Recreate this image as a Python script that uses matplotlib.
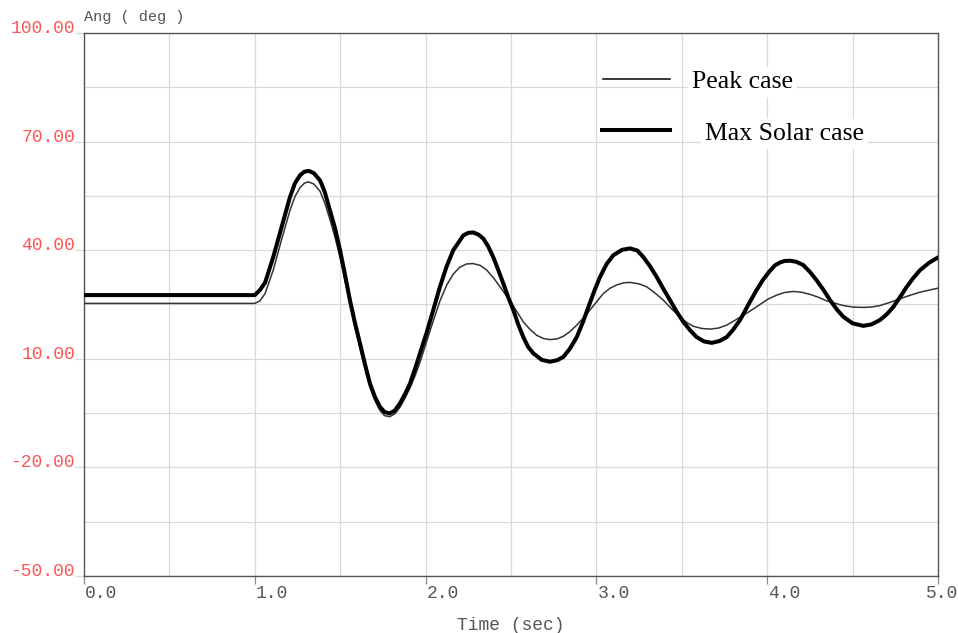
import matplotlib
matplotlib.use("Agg")
import matplotlib.pyplot as plt
from matplotlib.lines import Line2D
from matplotlib.transforms import ScaledTranslation, blended_transform_factory

# Rotor angle response, Peak case
t_peak = [0.0, 1.0, 1.03, 1.06, 1.108, 1.157, 1.206, 1.235, 1.265, 1.29, 1.313,
          1.345, 1.382, 1.41, 1.44, 1.47, 1.499, 1.528, 1.557, 1.586, 1.616,
          1.645, 1.674, 1.703, 1.733, 1.76, 1.79, 1.82, 1.85, 1.88, 1.909,
          1.94, 1.967, 2.006, 2.045, 2.084, 2.123, 2.162, 2.20, 2.24, 2.279,
          2.32, 2.358, 2.40, 2.436, 2.47, 2.504, 2.54, 2.572, 2.61, 2.65,
          2.69, 2.728, 2.77, 2.806, 2.845, 2.885, 2.943, 2.98, 3.04, 3.08,
          3.119, 3.16, 3.197, 3.25, 3.294, 3.34, 3.392, 3.44, 3.489, 3.53,
          3.567, 3.615, 3.665, 3.715, 3.763, 3.81, 3.86, 3.91, 3.958, 4.005,
          4.056, 4.10, 4.153, 4.20, 4.251, 4.30, 4.348, 4.40, 4.446, 4.50,
          4.563, 4.61, 4.66, 4.72, 4.778, 4.84, 4.895, 4.95, 5.0]
ang_peak = [25.3, 25.3, 26.0, 28.0, 34.5, 43.0, 51.0, 54.8, 57.3, 58.5, 58.9,
            58.3, 56.3, 53.0, 48.5, 43.5, 38.0, 31.5, 25.0, 18.8, 13.0,
            7.3, 2.2, -1.5, -4.3, -5.7, -6.0, -5.2, -3.4, -0.8, 2.0,
            5.5, 9.0, 14.8, 20.5, 26.0, 30.3, 33.4, 35.3, 36.2, 36.3,
            35.8, 34.5, 32.2, 29.9, 27.6, 25.3, 22.6, 20.2, 18.2, 16.5,
            15.6, 15.3, 15.5, 16.2, 17.5, 19.3, 22.3, 24.5, 28.0, 29.5,
            30.4, 31.0, 31.1, 30.7, 29.9, 28.3, 26.2, 23.8, 21.6, 20.0,
            19.0, 18.4, 18.2, 18.5, 19.3, 20.6, 22.0, 23.5, 25.0, 26.5,
            27.6, 28.3, 28.6, 28.4, 27.8, 27.0, 26.0, 25.3, 24.7, 24.3,
            24.2, 24.3, 24.7, 25.6, 26.6, 27.6, 28.4, 29.0, 29.5]

# Rotor angle response, Max Solar case
t_solar = [0.0, 1.0, 1.03, 1.06, 1.108, 1.157, 1.206, 1.235, 1.265, 1.29, 1.317,
           1.345, 1.382, 1.41, 1.44, 1.47, 1.499, 1.528, 1.557, 1.586, 1.616,
           1.645, 1.674, 1.703, 1.733, 1.76, 1.788, 1.82, 1.85, 1.88, 1.909,
           1.94, 1.967, 2.006, 2.045, 2.084, 2.123, 2.162, 2.221, 2.25, 2.279,
           2.31, 2.338, 2.367, 2.396, 2.425, 2.455, 2.484, 2.514, 2.543, 2.572,
           2.60, 2.631, 2.68, 2.728, 2.77, 2.806, 2.845, 2.885, 2.92, 2.953,
           2.99, 3.021, 3.06, 3.099, 3.15, 3.197, 3.24, 3.275, 3.315, 3.353,
           3.39, 3.431, 3.47, 3.509, 3.55, 3.587, 3.63, 3.675, 3.72, 3.763,
           3.80, 3.841, 3.89, 3.938, 3.975, 4.016, 4.045, 4.075, 4.10, 4.133,
           4.17, 4.211, 4.25, 4.289, 4.33, 4.368, 4.41, 4.446, 4.50, 4.563,
           4.61, 4.66, 4.70, 4.738, 4.78, 4.817, 4.855, 4.895, 4.95, 5.0]
ang_solar = [27.6, 27.6, 29.0, 31.0, 38.1, 46.4, 54.7, 58.5, 60.7, 61.7, 61.9,
             61.3, 59.3, 56.0, 51.0, 46.0, 40.0, 33.3, 26.2, 20.0, 14.2,
             8.5, 3.2, -0.5, -3.3, -4.7, -5.1, -4.3, -2.3, 0.3, 3.2,
             7.5, 11.5, 17.2, 23.5, 29.9, 35.5, 40.0, 44.1, 44.8, 44.9,
             44.3, 43.2, 41.0, 38.1, 34.6, 30.8, 27.0, 23.4, 19.4, 16.0,
             13.3, 11.5, 9.7, 9.2, 9.6, 10.5, 12.8, 16.0, 20.0, 24.3,
             29.0, 32.6, 36.2, 38.6, 40.1, 40.5, 39.9, 38.1, 35.5, 32.6,
             29.5, 26.2, 23.0, 20.2, 17.8, 16.0, 14.8, 14.4, 14.9, 16.0,
             18.0, 20.7, 25.0, 29.0, 31.8, 34.3, 35.8, 36.6, 37.0, 37.1,
             36.8, 35.9, 34.0, 31.7, 29.0, 26.2, 23.5, 21.6, 19.8, 19.1,
             19.5, 20.7, 22.3, 24.3, 27.2, 29.9, 32.3, 34.5, 36.6, 38.0]

series_names = ["Peak case", "Max Solar case"]

# Axis ticks
y_major = [100, 70, 40, 10, -20, -50]
y_major_labels = ["100.00", "70.00", "40.00", "10.00", "-20.00", "-50.00"]
y_grid = [100, 85, 70, 55, 40, 25, 10, -5, -20, -35, -50]
x_major = [0.0, 1.0, 2.0, 3.0, 4.0, 5.0]
x_major_labels = ["0.0", "1.0", "2.0", "3.0", "4.0", "5.0"]
x_grid = [0.0, 0.5, 1.0, 1.5, 2.0, 2.5, 3.0, 3.5, 4.0, 4.5, 5.0]

W, H = 958, 633
fig = plt.figure(figsize=(W / 100, H / 100), dpi=100)
ax = fig.add_axes([84 / W, 1 - 576 / H, (938 - 84) / W, (576 - 33) / H])

mono = "Liberation Mono"
grid_c = "#d9d9d9"
spine_c = "#555555"

ax.set_xlim(0, 5)
ax.set_ylim(-50, 100)

for yv in y_grid:
    ax.axhline(yv, color=grid_c, lw=0.9, zorder=0)
for xv in x_grid:
    ax.axvline(xv, color=grid_c, lw=0.9, zorder=0)

ax.plot(t_peak, ang_peak, color="#333333", lw=1.1, zorder=3,
        solid_joinstyle="round")
ax.plot(t_solar, ang_solar, color="black", lw=2.9, zorder=4,
        solid_joinstyle="round")

for s in ax.spines.values():
    s.set_color(spine_c)
    s.set_linewidth(1.0)

# Y ticks: red labels sitting on their grid line
ax.set_yticks(y_major)
ax.set_yticklabels(y_major_labels)
ax.tick_params(axis="y", length=6.5, width=0.9, color=grid_c, pad=0,
               labelsize=13, labelcolor="#ff5555")
for lab in ax.get_yticklabels():
    lab.set_fontfamily(mono)
    lab.set_verticalalignment("baseline")

# X ticks: short marks with labels starting at the mark
ax.set_xticks(x_major)
ax.set_xticklabels([])
ax.tick_params(axis="x", length=5.5, width=0.9, color="#888888")
xtr = blended_transform_factory(ax.transData, ax.transAxes)
for xv, txt in zip(x_major, x_major_labels):
    if xv == x_major[-1]:
        off = ScaledTranslation(20 / 100, -9 / 100, fig.dpi_scale_trans)
        ax.text(xv, 0, txt, transform=xtr + off, ha="right", va="top",
                fontsize=13, family=mono, color="#555555")
    else:
        off = ScaledTranslation(1 / 100, -9 / 100, fig.dpi_scale_trans)
        ax.text(xv, 0, txt, transform=xtr + off, ha="left", va="top",
                fontsize=13, family=mono, color="#555555")

fig.text(511 / W, 1 - 630 / H, "Time (sec)", ha="center", va="baseline",
         fontsize=13, family=mono, color="#555555")
fig.text(84 / W, 1 - 21 / H, "Ang ( deg )", ha="left", va="baseline",
         fontsize=11, family=mono, color="#555555")

# Legend
fig.add_artist(Line2D([603 / W, 670 / W], [1 - 79 / H, 1 - 79 / H],
                      color="black", lw=1.1, zorder=6))
fig.add_artist(Line2D([602 / W, 670 / W], [1 - 130 / H, 1 - 130 / H],
                      color="black", lw=2.9, zorder=6))
fig.text(692 / W, 1 - 88 / H, series_names[0], ha="left", va="baseline",
         fontsize=18.5, family="Liberation Serif", color="black", zorder=6,
         bbox=dict(facecolor="white", edgecolor="none", pad=3))
fig.text(705 / W, 1 - 140 / H, series_names[1], ha="left", va="baseline",
         fontsize=18.5, family="Liberation Serif", color="black", zorder=6,
         bbox=dict(facecolor="white", edgecolor="none", pad=3))

fig.savefig("out.png", dpi=100)
